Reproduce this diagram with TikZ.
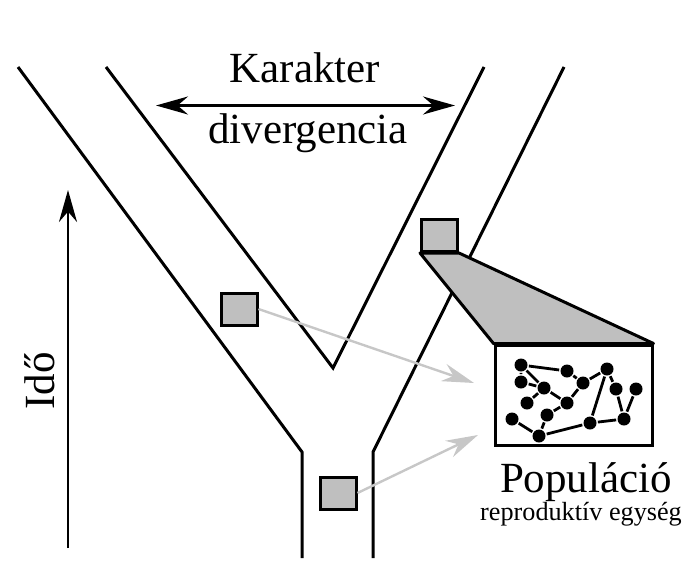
\documentclass[tikz,border=0pt]{standalone}
\usepackage{fontspec}
\setmainfont{Liberation Serif}
\usetikzlibrary{arrows.meta, positioning}
\definecolor{boxgray}{gray}{0.75}
\definecolor{arrowgray}{gray}{0.78}
\tikzset{
  wall/.style={line width=3pt},
  sample/.style={draw,line width=3pt,fill=boxgray,minimum width=36pt,minimum height=32pt,inner sep=0pt},
  bigfont/.style={font=\fontsize{43pt}{48pt}\selectfont,inner sep=0pt},
}
\begin{document}
\begin{tikzpicture}[x=1pt,y=-1pt]
    \useasboundingbox (0,0) rectangle (700,578);
    % branches
    \draw[wall] (18,67)--(302,452)--(302,558);
    \draw[wall] (106,67)--(333,368)--(484,67);
    \draw[wall] (564,67)--(373,452)--(373,558);
    % samples
    \node[sample] (sl) at (239,309) {};
    \node[sample] (sb) at (338,493) {};
    \node[sample] (st) at (439.5,235.5) {};
    \node[draw,line width=3pt,fill=white,minimum width=157pt,minimum height=100pt,inner sep=0pt] (pop) at (573.5,395) {};
    \filldraw[line width=3pt,fill=boxgray,line join=round]
    (st.south west)--(st.south east)--(pop.north east)--(pop.north west)--cycle;
    \coordinate (el) at (474,383);
    \coordinate (eb) at (478,435);
    \draw[arrowgray,line width=2.4pt,-{Stealth[length=32pt,width=18pt]}] (sl.east)--(el);
    \draw[arrowgray,line width=2.4pt,-{Stealth[length=32pt,width=18pt]}] (sb.east)--(eb);
    % population
    \draw[line width=2.8pt,every node/.style={inner sep=4.6pt,fill,circle}]
    \foreach \n/\p in {1/{521,365},2/{521,382},3/{567,371},4/{544,388},5/{607,369},
      6/{583,383},7/{616,389},8/{636,389},9/{527,403},10/{567,403},11/{547,415},
      12/{512,419},13/{539,436},14/{590,423},15/{624,419}}{
    (\p)node(d\n){}};
    \draw[line width=2.8pt]
    \foreach \a/\b in {1/3,1/2,1/4,2/4,3/6,6/5,4/10,4/9,6/10,10/11,11/13,12/13,13/14,14/5,5/7,7/15,14/15,8/15}{
    (d\a)--(d\b)};
    % labels
    \node[bigfont,anchor=base] (kar) at (305,82) {Karakter};
    \node[bigfont,anchor=base] (div) at (308,143) {divergencia};
    \coordinate (dl) at (156,105.5);
    \coordinate (dr) at (455,105.5);
    \draw[line width=2.4pt,{Stealth[length=32pt,width=18pt]}-{Stealth[length=32pt,width=18pt]}] (dl)--(dr);
    \node[bigfont,anchor=base] (popl) at (586,492) {Populáció};
    \node[font=\fontsize{26.2pt}{30pt}\selectfont,inner sep=0pt,anchor=base] (rep) at (581,520) {reproduktív egység};
    \coordinate (t0) at (68,548);
    \coordinate (t1) at (68,190);
    \draw[line width=2.4pt,-{Stealth[length=32pt,width=18pt]}] (t0)--(t1);
    \node[bigfont,anchor=base,rotate=90] (ido) at (54,381) {Idő};
\end{tikzpicture}
\end{document}
